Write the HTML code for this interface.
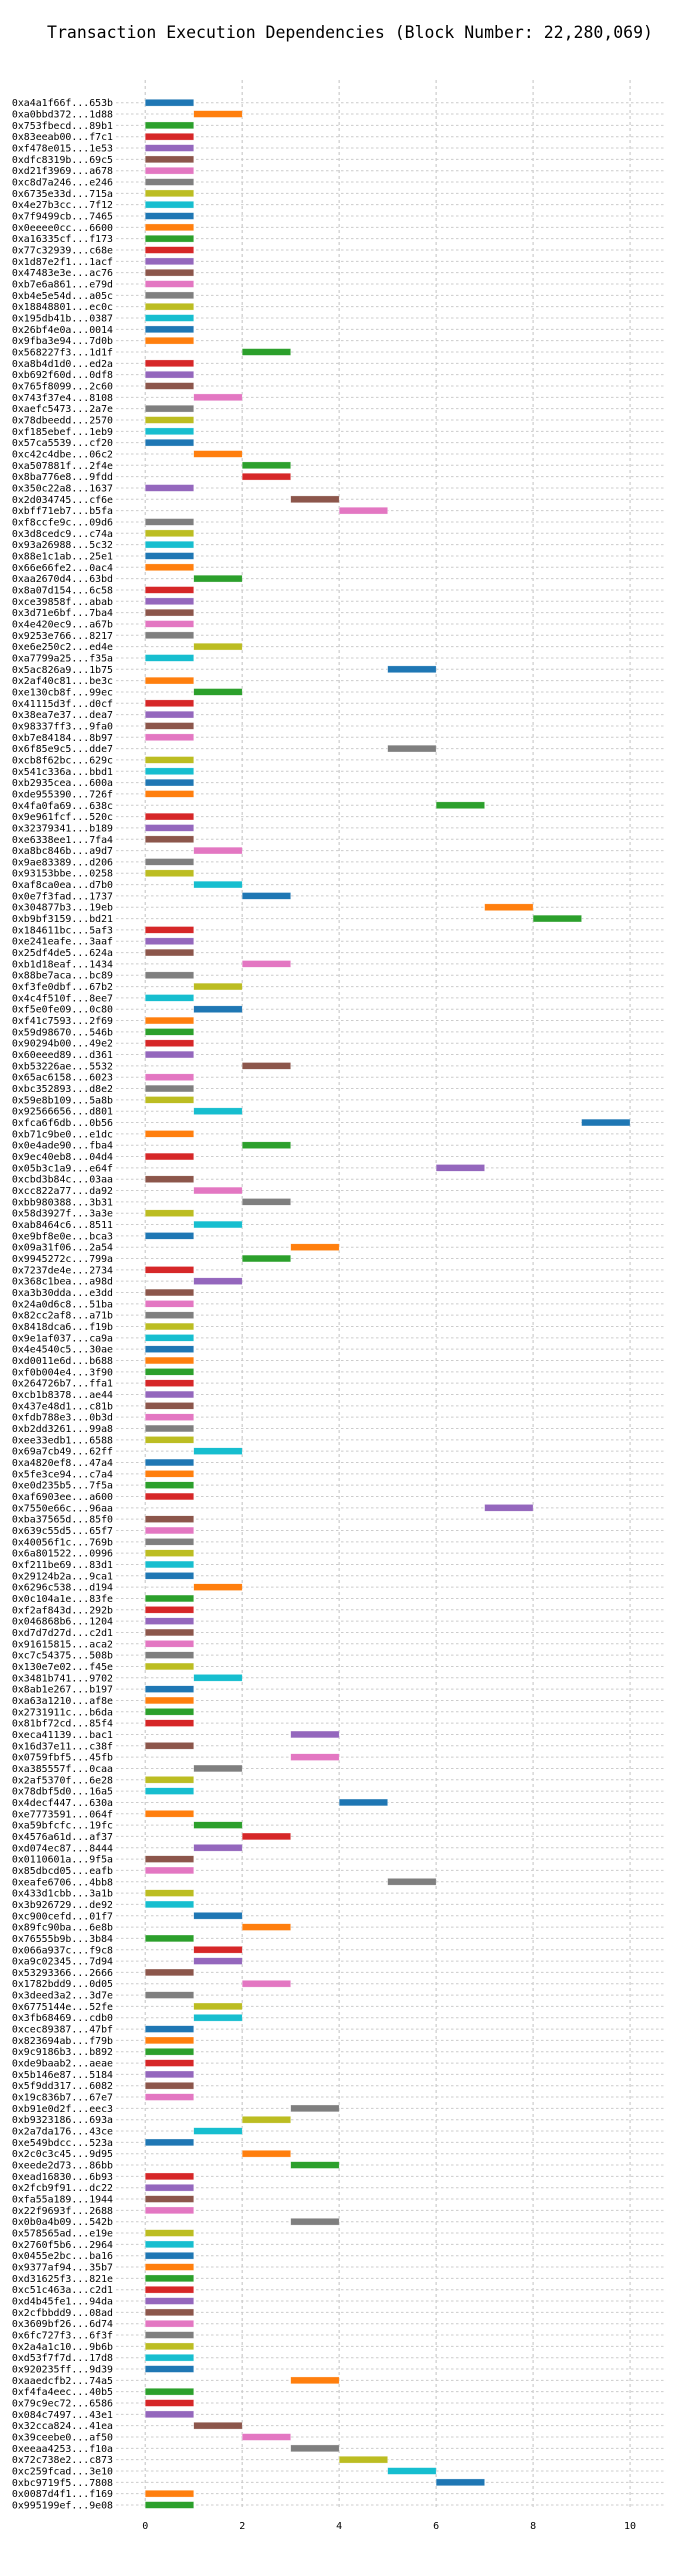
<!DOCTYPE html>
<html><head><meta charset="utf-8">
<style>
html,body{margin:0;padding:0;background:#fff;}
svg{display:block;}
text{font-family:"DejaVu Sans Mono","Liberation Mono",monospace;}
</style></head>
<body>
<svg id="chart" width="700" height="2556" viewBox="0 0 700 2556" xmlns="http://www.w3.org/2000/svg">
<text x="350" y="38" text-anchor="middle" font-size="16.5" fill="#000">Transaction Execution Dependencies (Block Number: 22,280,069)</text>
<g id="grid"></g>
<g id="bars"></g>
<g id="ylabels"></g>
<g id="xticks"></g>
</svg>
<script>
const txLabels = ["0xa4a1f66f...653b","0xa0bbd372...1d88","0x753fbecd...89b1","0x83eeab00...f7c1","0xf478e015...1e53","0xdfc8319b...69c5","0xd21f3969...a678","0xc8d7a246...e246","0x6735e33d...715a","0x4e27b3cc...7f12","0x7f9499cb...7465","0x0eeee0cc...6600","0xa16335cf...f173","0x77c32939...c68e","0x1d87e2f1...1acf","0x47483e3e...ac76","0xb7e6a861...e79d","0xb4e5e54d...a05c","0x18848801...ec0c","0x195db41b...0387","0x26bf4e0a...0014","0x9fba3e94...7d0b","0x568227f3...1d1f","0xa8b4d1d0...ed2a","0xb692f60d...0df8","0x765f8099...2c60","0x743f37e4...8108","0xaefc5473...2a7e","0x78dbeedd...2570","0xf185ebef...1eb9","0x57ca5539...cf20","0xc42c4dbe...06c2","0xa507881f...2f4e","0x8ba776e8...9fdd","0x350c22a8...1637","0x2d034745...cf6e","0xbff71eb7...b5fa","0xf8ccfe9c...09d6","0x3d8cedc9...c74a","0x93a26988...5c32","0x88e1c1ab...25e1","0x66e66fe2...0ac4","0xaa2670d4...63bd","0x8a07d154...6c58","0xce39858f...abab","0x3d71e6bf...7ba4","0x4e420ec9...a67b","0x9253e766...8217","0xe6e250c2...ed4e","0xa7799a25...f35a","0x5ac826a9...1b75","0x2af40c81...be3c","0xe130cb8f...99ec","0x41115d3f...d0cf","0x38ea7e37...dea7","0x98337ff3...9fa0","0xb7e84184...8b97","0x6f85e9c5...dde7","0xcb8f62bc...629c","0x541c336a...bbd1","0xb2935cea...600a","0xde955390...726f","0x4fa0fa69...638c","0x9e961fcf...520c","0x32379341...b189","0xe6338ee1...7fa4","0xa8bc846b...a9d7","0x9ae83389...d206","0x93153bbe...0258","0xaf8ca0ea...d7b0","0x0e7f3fad...1737","0x304877b3...19eb","0xb9bf3159...bd21","0x184611bc...5af3","0xe241eafe...3aaf","0x25df4de5...624a","0xb1d18eaf...1434","0x88be7aca...bc89","0xf3fe0dbf...67b2","0x4c4f510f...8ee7","0xf5e0fe09...0c80","0xf41c7593...2f69","0x59d98670...546b","0x90294b00...49e2","0x60eeed89...d361","0xb53226ae...5532","0x65ac6158...6023","0xbc352893...d8e2","0x59e8b109...5a8b","0x92566656...d801","0xfca6f6db...0b56","0xb71c9be0...e1dc","0x0e4ade90...fba4","0x9ec40eb8...04d4","0x05b3c1a9...e64f","0xcbd3b84c...03aa","0xcc822a77...da92","0xbb980388...3b31","0x58d3927f...3a3e","0xab8464c6...8511","0xe9bf8e0e...bca3","0x09a31f06...2a54","0x9945272c...799a","0x7237de4e...2734","0x368c1bea...a98d","0xa3b30dda...e3dd","0x24a0d6c8...51ba","0x82cc2af8...a71b","0x8418dca6...f19b","0x9e1af037...ca9a","0x4e4540c5...30ae","0xd0011e6d...b688","0xf0b004e4...3f90","0x264726b7...ffa1","0xcb1b8378...ae44","0x437e48d1...c81b","0xfdb788e3...0b3d","0xb2dd3261...99a8","0xee33edb1...6588","0x69a7cb49...62ff","0xa4820ef8...47a4","0x5fe3ce94...c7a4","0xe0d235b5...7f5a","0xaf6903ee...a600","0x7550e66c...96aa","0xba37565d...85f0","0x639c55d5...65f7","0x40056f1c...769b","0x6a801522...0996","0xf211be69...83d1","0x29124b2a...9ca1","0x6296c538...d194","0x0c104a1e...83fe","0xf2af843d...292b","0x046868b6...1204","0xd7d7d27d...c2d1","0x91615815...aca2","0xc7c54375...508b","0x130e7e02...f45e","0x3481b741...9702","0x8ab1e267...b197","0xa63a1210...af8e","0x2731911c...b6da","0x81bf72cd...85f4","0xeca41139...bac1","0x16d37e11...c38f","0x0759fbf5...45fb","0xa385557f...0caa","0x2af5370f...6e28","0x78dbf5d0...16a5","0x4decf447...630a","0xe7773591...064f","0xa59bfcfc...19fc","0x4576a61d...af37","0xd074ec87...8444","0x0110601a...9f5a","0x85dbcd05...eafb","0xeafe6706...4bb8","0x433d1cbb...3a1b","0x3b926729...de92","0xc900cefd...01f7","0x89fc90ba...6e8b","0x76555b9b...3b84","0x066a937c...f9c8","0xa9c02345...7d94","0x53293366...2666","0x1782bdd9...0d05","0x3deed3a2...3d7e","0x6775144e...52fe","0x3fb68469...cdb0","0xcec89387...47bf","0x823694ab...f79b","0x9c9186b3...b892","0xde9baab2...aeae","0x5b146e87...5184","0x5f9dd317...6082","0x19c836b7...67e7","0xb91e0d2f...eec3","0xb9323186...693a","0x2a7da176...43ce","0xe549bdcc...523a","0x2c0c3c45...9d95","0xeede2d73...86bb","0xead16830...6b93","0x2fcb9f91...dc22","0xfa55a189...1944","0x22f9693f...2688","0x0b0a4b09...542b","0x578565ad...e19e","0x2760f5b6...2964","0x0455e2bc...ba16","0x9377af94...35b7","0xd31625f3...821e","0xc51c463a...c2d1","0xd4b45fe1...94da","0x2cfbbdd9...08ad","0x3609bf26...6d74","0x6fc727f3...6f3f","0x2a4a1c10...9b6b","0xd53f7f7d...17d8","0x920235ff...9d39","0xaaedcfb2...74a5","0xf4fa4eec...40b5","0x79c9ec72...6586","0x084c7497...43e1","0x32cca824...41ea","0x39ceebe0...af50","0xeeaa4253...f10a","0x72c738e2...c873","0xc259fcad...3e10","0xbc9719f5...7808","0x0087d4f1...f169","0x995199ef...9e08"];
const startValues = [0,1,0,0,0,0,0,0,0,0,0,0,0,0,0,0,0,0,0,0,0,0,2,0,0,0,1,0,0,0,0,1,2,2,0,3,4,0,0,0,0,0,1,0,0,0,0,0,1,0,5,0,1,0,0,0,0,5,0,0,0,0,6,0,0,0,1,0,0,1,2,7,8,0,0,0,2,0,1,0,1,0,0,0,0,2,0,0,0,1,9,0,2,0,6,0,1,2,0,1,0,3,2,0,1,0,0,0,0,0,0,0,0,0,0,0,0,0,0,1,0,0,0,0,7,0,0,0,0,0,0,1,0,0,0,0,0,0,0,1,0,0,0,0,3,0,3,1,0,0,4,0,1,2,1,0,0,5,0,0,1,2,0,1,1,0,2,0,1,1,0,0,0,0,0,0,0,3,2,1,0,2,3,0,0,0,0,3,0,0,0,0,0,0,0,0,0,0,0,0,0,3,0,0,0,1,2,3,4,5,6,0,0];
const durationValues = startValues.map(() => 1);
const xTickValues = [0,2,4,6,8,10];
const palette = ["#1f77b4","#ff7f0e","#2ca02c","#d62728","#9467bd","#8c564b","#e377c2","#7f7f7f","#bcbd22","#17becf"];

const NS = "http://www.w3.org/2000/svg";
const plotTop = 80, plotBottom = 2510, plotLeft = 121, plotRight = 664;
const xMin = -0.5, xMax = 10.7;
const firstRowY = 102.7, lastRowY = 2505;
function xScale(v){ return plotLeft + (v - xMin) / (xMax - xMin) * (plotRight - plotLeft); }
function yScale(i){ return firstRowY + i * (lastRowY - firstRowY) / (txLabels.length - 1); }
function mk(tag, attrs, parent){ const e = document.createElementNS(NS, tag); for (const k in attrs) e.setAttribute(k, attrs[k]); parent.appendChild(e); return e; }

const grid = document.getElementById('grid');
const bars = document.getElementById('bars');
const ylabels = document.getElementById('ylabels');
const xticks = document.getElementById('xticks');

txLabels.forEach((lab, i) => {
  const y = yScale(i);
  const gl = mk('line', {x1: 116, x2: plotRight, y1: y, y2: y, stroke: '#cccccc', 'stroke-width': 1, 'stroke-dasharray': '2.5,2.5'}, grid);
  
  
  const t = mk('text', {x: 113, y: y + 3.5, 'text-anchor': 'end', 'font-size': 9.9, fill: '#000'}, ylabels);
  t.textContent = lab;
  
  
});

xTickValues.forEach(v => {
  const x = xScale(v);
  const vl = mk('line', {x1: x, x2: x, y1: plotTop, y2: plotBottom, stroke: '#cccccc', 'stroke-width': 1.2, 'stroke-dasharray': '3,3'}, grid);
  
  
  const t = mk('text', {x: x, y: 2529, 'text-anchor': 'middle', 'font-size': 10, fill: '#000'}, xticks);
  t.textContent = String(v);
  
  
});

startValues.forEach((s, i) => {
  const y = yScale(i);
  const x1 = xScale(s), x2 = xScale(s + durationValues[i]);
  const r = mk('rect', {x: x1, y: y - 3.4, width: x2 - x1, height: 6.8, fill: palette[i % 10], stroke: '#ffffff', 'stroke-width': 0.5, 'stroke-opacity': 0.6}, bars);
  
  
});
</script>
</body></html>
